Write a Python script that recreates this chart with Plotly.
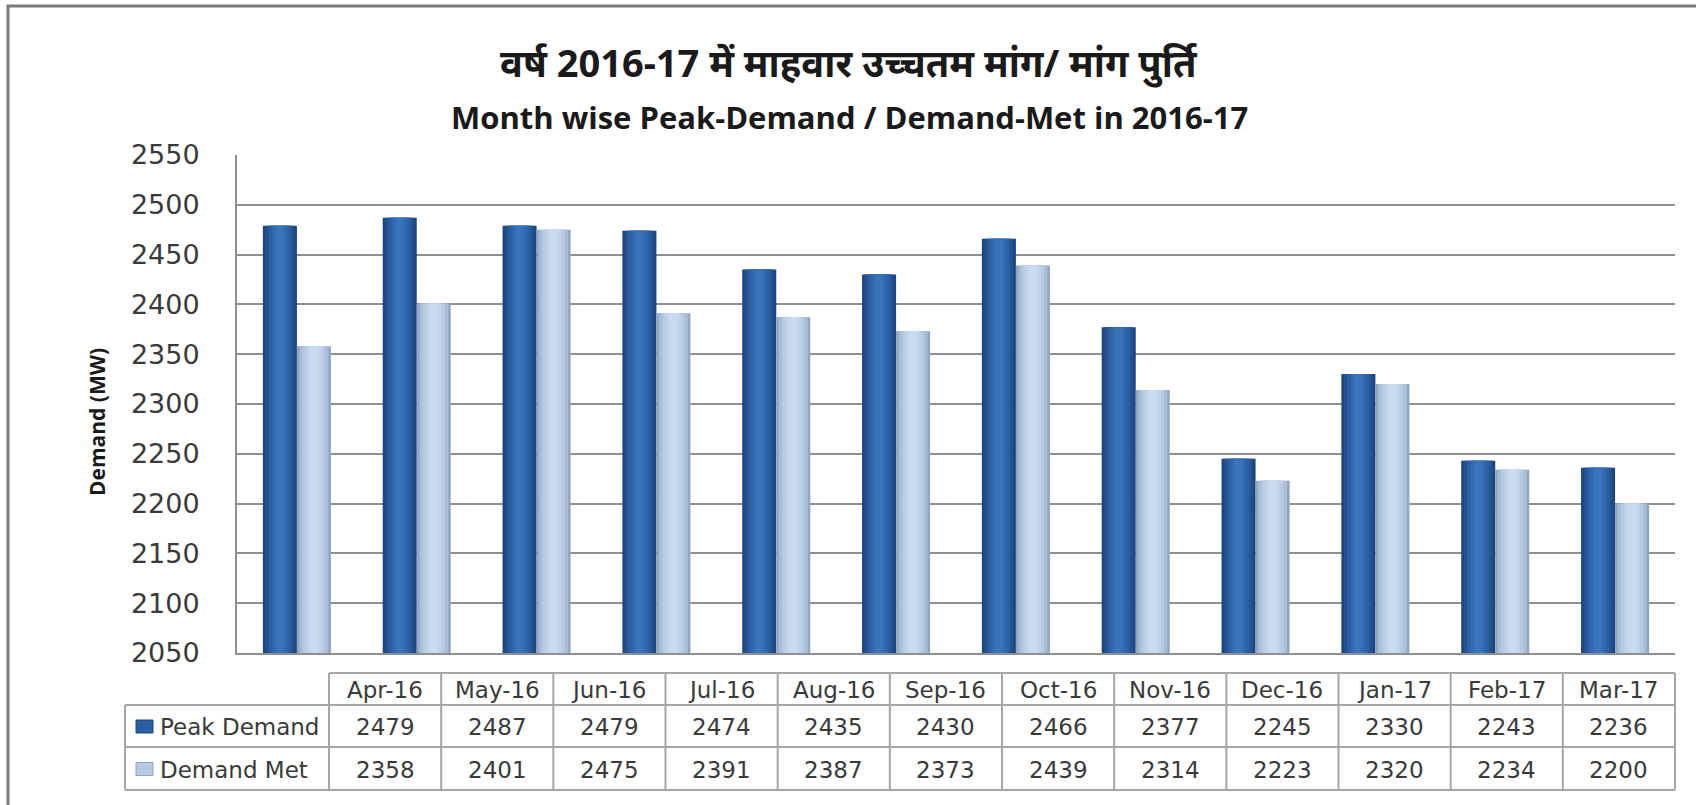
import plotly.graph_objects as go

months = ["Apr-16", "May-16", "Jun-16", "Jul-16", "Aug-16", "Sep-16",
          "Oct-16", "Nov-16", "Dec-16", "Jan-17", "Feb-17", "Mar-17"]
peak_demand = [2479, 2487, 2479, 2474, 2435, 2430, 2466, 2377, 2245, 2330, 2243, 2236]
demand_met = [2358, 2401, 2475, 2391, 2387, 2373, 2439, 2314, 2223, 2320, 2234, 2200]
series_names = ["Peak Demand", "Demand Met"]
y_ticks = [2050, 2100, 2150, 2200, 2250, 2300, 2350, 2400, 2450, 2500, 2550]

title_hi = "वर्ष 2016-17 में माहवार उच्चतम मांग/ मांग पुर्ति"
title_en = "Month wise Peak-Demand / Demand-Met in 2016-17"
y_title = "Demand (MW)"

W, H = 1696, 805
PL, PR, PT, PB = 237, 1675, 155, 653  # plot area in px


def xp(px):
    return (px - PL) / (PR - PL)


def yp(py):
    return (PB - py) / (PB - PT)


TEXT = "#3A3A3A"
GRID = "#8F8F8F"
TLINE = "#A6A6A6"
DARK_SHADES = ["#1D4680", "#24528F", "#2B5FA1", "#3169B0", "#3873BB"]
LIGHT_SHADES = ["#92A6C1", "#A9BDD8", "#B7CAE3", "#C1D3EA", "#CADBEF"]
STRIP_FRACS = [1.0, 0.85, 0.66, 0.46, 0.26]

BW = 0.284  # bar width in category units
fig = go.Figure()
series = [(peak_demand, -BW, DARK_SHADES), (demand_met, 0.0, LIGHT_SHADES)]
for k, (vals, off, shades) in enumerate(series):
    # base bar (edge colour), then narrower inner strips to mimic the bevel shading
    for j, (frac, col) in enumerate(zip(STRIP_FRACS, shades)):
        w = BW * frac
        fig.add_trace(go.Bar(
            x=months, y=vals, name=series_names[k],
            offset=off + (BW - w) / 2, width=w,
            marker=dict(color=col, line=dict(width=0)),
            hoverinfo="skip" if j else None, showlegend=False))

shapes = []
annotations = []

# outer frame
shapes.append(dict(type="rect", xref="paper", yref="paper",
                   x0=xp(8), x1=xp(1710), y0=yp(6), y1=yp(820),
                   line=dict(color="#7A7A7A", width=3), layer="below"))

# titles
annotations.append(dict(text="<b>" + title_hi + "</b>", xref="paper", yref="paper",
                        x=xp(849), y=yp(62), xanchor="center", yanchor="middle",
                        showarrow=False,
                        font=dict(family="Noto Sans, Noto Sans Devanagari, sans-serif",
                                  size=38, color="#1A1A1A")))
annotations.append(dict(text="<b>" + title_en + "</b>", xref="paper", yref="paper",
                        x=xp(849), y=yp(117), xanchor="center", yanchor="middle",
                        showarrow=False,
                        font=dict(family="Open Sans", size=31, color="#1A1A1A")))
annotations.append(dict(text="<b>" + y_title + "</b>", xref="paper", yref="paper",
                        x=xp(97), y=yp(422), xanchor="center", yanchor="middle",
                        textangle=-90, showarrow=False,
                        font=dict(family="Open Sans", size=21, color="#1A1A1A")))

# data table
T_LEFT, T_COL0, T_RIGHT = 125, 329, 1675
ROWS = [673, 705, 747, 790]
ncol = len(months)
colw = (T_RIGHT - T_COL0) / ncol
tfont = dict(family="DejaVu Sans", size=23, color=TEXT)

shapes.append(dict(type="line", xref="paper", yref="paper",
                   x0=xp(T_COL0), x1=xp(T_RIGHT), y0=yp(ROWS[0]), y1=yp(ROWS[0]),
                   line=dict(color=TLINE, width=2)))
for r in ROWS[1:]:
    shapes.append(dict(type="line", xref="paper", yref="paper",
                       x0=xp(T_LEFT), x1=xp(T_RIGHT), y0=yp(r), y1=yp(r),
                       line=dict(color=TLINE, width=2)))
shapes.append(dict(type="line", xref="paper", yref="paper",
                   x0=xp(T_LEFT), x1=xp(T_LEFT), y0=yp(ROWS[1]), y1=yp(ROWS[3]),
                   line=dict(color=TLINE, width=2)))
for i in range(ncol + 1):
    xx = T_COL0 + i * colw
    shapes.append(dict(type="line", xref="paper", yref="paper",
                       x0=xp(xx), x1=xp(xx), y0=yp(ROWS[0]), y1=yp(ROWS[3]),
                       line=dict(color=TLINE, width=2)))

row_vals = [peak_demand, demand_met]
for i, m in enumerate(months):
    cx = T_COL0 + (i + 0.5) * colw
    annotations.append(dict(text=m, xref="paper", yref="paper", x=xp(cx),
                            y=yp((ROWS[0] + ROWS[1]) / 2 + 1), xanchor="center",
                            yanchor="middle", showarrow=False, font=tfont))
    for r, vals in enumerate(row_vals):
        annotations.append(dict(text=str(vals[i]), xref="paper", yref="paper", x=xp(cx),
                                y=yp((ROWS[r + 1] + ROWS[r + 2]) / 2 + 1), xanchor="center",
                                yanchor="middle", showarrow=False, font=tfont))

key_cols = [(DARK_SHADES[2], DARK_SHADES[0]), (LIGHT_SHADES[2], LIGHT_SHADES[0])]
for r, name in enumerate(series_names):
    cy = (ROWS[r + 1] + ROWS[r + 2]) / 2
    shapes.append(dict(type="rect", xref="paper", yref="paper",
                       x0=xp(136), x1=xp(153), y0=yp(cy - 6), y1=yp(cy + 7),
                       fillcolor=key_cols[r][0], line=dict(color=key_cols[r][1], width=1)))
    annotations.append(dict(text=name, xref="paper", yref="paper", x=xp(158),
                            y=yp(cy + 1), xanchor="left", yanchor="middle",
                            showarrow=False, font=tfont))

fig.update_layout(
    width=W, height=H,
    margin=dict(l=PL, r=W - PR, t=PT, b=H - PB, pad=0),
    paper_bgcolor="white", plot_bgcolor="white",
    barmode="overlay",
    showlegend=False,
    shapes=shapes, annotations=annotations,
    xaxis=dict(showticklabels=False, showgrid=False, showline=True,
               linecolor=GRID, linewidth=2, ticks="", zeroline=False),
    yaxis=dict(range=[2050, 2550], tickvals=y_ticks, showgrid=True,
               gridcolor=GRID, gridwidth=2, showline=True, linecolor=GRID,
               linewidth=2, ticks="", zeroline=False, ticklabelstandoff=30,
               tickfont=dict(family="DejaVu Sans", size=27, color=TEXT)),
)

fig.write_html("out.html", config={"displayModeBar": False},
               post_script="document.body.style.margin='0';")
